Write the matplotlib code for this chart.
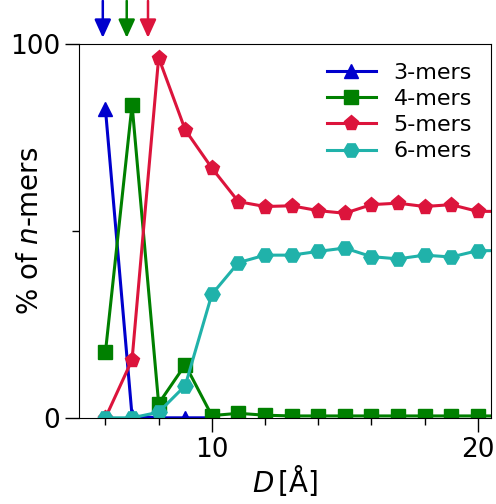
import matplotlib
matplotlib.use("Agg")
import matplotlib.pyplot as plt

D3 = [6, 7, 8, 9, 10]
mers3 = [82.5, 0.5, 0.0, 0.0, 0.0]

D = [6, 7, 8, 9, 10, 11, 12, 13, 14, 15, 16, 17, 18, 19, 20, 21]
mers4 = [17.6, 83.7, 3.8, 14.2, 0.6, 1.2, 0.7, 0.5, 0.5, 0.5, 0.5, 0.5, 0.5, 0.5, 0.5, 0.5]
mers5 = [0.0, 15.5, 96.3, 77.0, 66.8, 57.8, 56.5, 56.7, 55.4, 54.7, 57.0, 57.4, 56.5, 57.0, 55.2, 55.2]
mers6 = [0.0, 0.0, 1.5, 8.6, 33.0, 41.5, 43.5, 43.5, 44.5, 45.4, 43.1, 42.5, 43.5, 43.0, 44.7, 44.7]

arrow_x = [5.9, 6.8, 7.6]
arrow_colors = ["#0000CD", "green", "crimson"]

fig = plt.figure(figsize=(4.96, 5.04), dpi=100)
ax = fig.add_axes([0.159, 0.171, 0.831, 0.742])

lw = 2.2
ms = 10
ax.plot(D3, mers3, color="#0000CD", marker="^", lw=lw, ms=ms, label="3-mers")
ax.plot(D, mers4, color="green", marker="s", lw=lw, ms=ms, label="4-mers")
ax.plot(D, mers5, color="crimson", marker="p", lw=lw, ms=ms + 1, label="5-mers")
ax.plot(D, mers6, color="lightseagreen", marker="H", lw=lw, ms=ms + 1, label="6-mers")

ax.set_xlim(5, 20.5)
ax.set_ylim(0, 100)
ax.set_xticks([10, 20])
ax.set_xticks([6, 8, 10, 12, 14, 16, 18, 20], minor=True)
ax.set_yticks([0, 100])
ax.set_yticks([50], minor=True)
ax.tick_params(axis="both", which="major", labelsize=19, length=10, width=1)
ax.tick_params(axis="both", which="minor", length=5, width=1)

ax.set_xlabel(r"$D\,$[Å]", fontsize=20, labelpad=0)
ax.set_ylabel(r"% of $n$-mers", fontsize=20)
ax.yaxis.set_label_coords(-0.085, 0.5)

ax.legend(loc="upper right", frameon=False, fontsize=16, handlelength=2.2,
          borderaxespad=0.45, labelspacing=0.28, handletextpad=0.8)

for x, c in zip(arrow_x, arrow_colors):
    ax.annotate("", xy=(x, 1.016), xytext=(x, 1.115),
                xycoords=("data", "axes fraction"), textcoords=("data", "axes fraction"),
                annotation_clip=False,
                arrowprops=dict(arrowstyle="-|>,head_width=0.25,head_length=0.55",
                                mutation_scale=20, lw=1.8, color=c, shrinkA=0, shrinkB=0))

fig.savefig("out.png", dpi=100)
